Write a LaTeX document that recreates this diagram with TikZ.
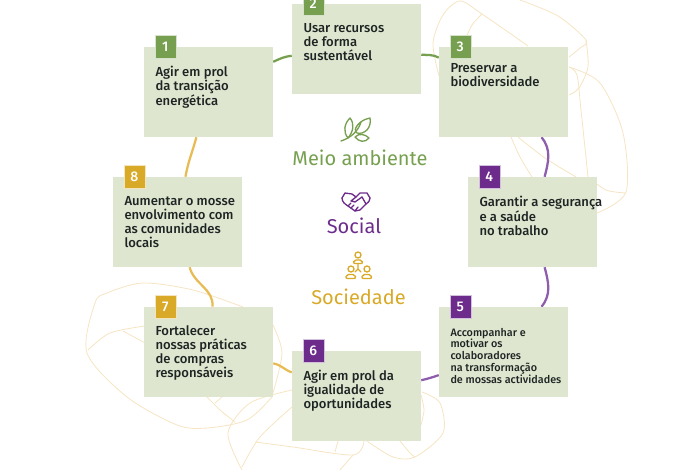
\documentclass[tikz,border=0pt]{standalone}
\usepackage{fontspec}
\setmainfont{Fira Sans}
\newfontfamily\medfont{Fira Sans Medium}
\usetikzlibrary{calc,positioning}
\definecolor{boxgreen}{HTML}{DEE6CF}
\definecolor{leafgreen}{HTML}{76A04F}
\definecolor{plum}{HTML}{6D2C8B}
\definecolor{ochre}{HTML}{D9A928}
\definecolor{linkplum}{HTML}{8E5DAE}
\definecolor{linkochre}{HTML}{E8BC55}
\definecolor{scribble}{HTML}{F6E4C3}
\definecolor{ink}{HTML}{1E2423}
\tikzset{
  goalbox/.style={fill=boxgreen,draw=none,minimum width=129*0.75pt,minimum height=90*0.75pt,inner sep=0pt},
  badge/.style={draw=white!70!#1,fill=#1,line width=.3pt,text=white,minimum width=21*0.75pt,minimum height=23*0.75pt,inner sep=0pt,font=\medfont\fontsize{10.5pt}{12pt}\selectfont},
  goaltext/.style={anchor=north west,inner sep=0pt,align=left,text=ink,font=\medfont\fontsize{9.8pt}{10.5pt}\selectfont},
  smalltext/.style={goaltext,font=\medfont\fontsize{8.1pt}{8.8pt}\selectfont},
  pillar/.style={inner sep=0pt,font=\fontsize{15pt}{18pt}\selectfont},
  link/.style={line width=1.7pt},
  doodle/.style={draw=scribble,line width=.6pt},
  icon/.style={line width=1pt,line cap=round,line join=round}
}
\begin{document}
\begin{tikzpicture}[x=0.75pt,y=-0.75pt]
  \useasboundingbox (0,0) rectangle (700,470);
  % loose lines behind the boxes
  \draw[doodle] plot[smooth] coordinates {(439,76) (433,43) (443,15) (460,1) (482,14) (528,46)};
  \draw[doodle] plot[smooth] coordinates {(482,14) (472,25) (466,38)};
  \draw[doodle] plot[smooth] coordinates {(520,0) (558,16) (586,40) (580,48) (569,57)};
  \draw[doodle] plot[smooth] coordinates {(586,40) (588,67) (579,88) (569,95)};
  \draw[doodle] plot[smooth] coordinates {(569,67) (600,83) (623,133) (626,192) (597,213)};
  \draw[doodle] plot[smooth] coordinates {(569,67) (577,75) (581,110) (588,177)};
  \draw[doodle] plot[smooth] coordinates {(511,137) (520,157) (532,177)};
  \draw[doodle] plot[smooth] coordinates {(518,137) (545,158) (576,177)};
  \draw[doodle] plot[smooth] coordinates {(588,177) (606,190) (626,193)};
  \draw[doodle] plot[smooth] coordinates {(243,307) (193,290) (143,283) (107,293) (95,303) (87,353) (127,397) (177,425) (207,428) (247,420) (272,397)};
  \draw[doodle] plot[smooth] coordinates {(145,326) (110,333) (88,350)};
  \draw[doodle] (123,331) -- (145,343);
  \draw[doodle] plot[smooth] coordinates {(207,397) (220,410) (235,422)};
  \draw[doodle] (215,403) -- (222,397);
  \draw[doodle] plot[smooth] coordinates {(273,325) (282,353) (273,393)};
  \draw[doodle] plot[smooth] coordinates {(292,390) (250,403) (228,433) (242,470)};
  \draw[doodle] plot[smooth] coordinates {(292,407) (260,437) (242,467)};
  \draw[doodle] plot[smooth] coordinates {(255,442) (293,447) (353,455) (364,441)};
  \draw[doodle] (353,455) -- (340,470);
  \draw[doodle] (335,452) -- (338,441);
  \draw[doodle] plot[smooth] coordinates {(367,441) (393,457) (415,457) (443,433) (440,403) (422,392)};
  \draw[doodle] plot[smooth] coordinates {(400,441) (410,453) (415,457)};
  \draw[doodle] (407,441) -- (421,425);
  \draw[doodle] plot[smooth] coordinates {(421,395) (424,410) (421,425)};
  % boxes
  \node[goalbox] (transicao) at (208.5,92) {};
  \node[goalbox] (recursos) at (356.5,49) {};
  \node[goalbox] (biodiv) at (503.5,92) {};
  \node[goalbox] (seguranca) at (532.5,222) {};
  \node[goalbox] (colab) at (503.5,352) {};
  \node[goalbox] (igualdade) at (356.5,396) {};
  \node[goalbox] (compras) at (208.5,352) {};
  \node[goalbox] (comunidades) at (177.5,222) {};
  % ring
  \draw[link,leafgreen] (transicao) to[out=25,in=186] (recursos);
  \draw[link,leafgreen] (recursos) to[out=-5,in=152] (biodiv);
  \draw[link,linkplum] (biodiv) to[out=-50,in=75] (seguranca);
  \draw[link,linkplum] (seguranca) to[out=-75,in=50] (colab);
  \draw[link,linkplum] (colab) to[bend left=3] (igualdade);
  \draw[link,linkochre] (igualdade) to[out=160,in=-10] (compras);
  \draw[link,linkochre] (compras) to[out=85,in=-75] (comunidades);
  \draw[link,linkochre] (comunidades) to[out=80,in=-105] (transicao);
  % boxes again, over the ring
  \foreach \boxname in {transicao,recursos,biodiv,seguranca,colab,igualdade,compras,comunidades}
    \fill[boxgreen] (\boxname.north west) rectangle (\boxname.south east);
  % badges
  \node[badge=leafgreen] (n1) at ([shift={(21.5,0)}]transicao.north west) {1};
  \node[badge=leafgreen] (n2) at ([shift={(21.5,0)}]recursos.north west) {2};
  \node[badge=leafgreen] (n3) at ([shift={(21.5,0)}]biodiv.north west) {3};
  \node[badge=plum] (n4) at ([shift={(21.5,0)}]seguranca.north west) {4};
  \node[badge=plum] (n5) at ([shift={(21.5,0)}]colab.north west) {5};
  \node[badge=plum] (n6) at ([shift={(21.5,0)}]igualdade.north west) {6};
  \node[badge=ochre] (n7) at ([shift={(21.5,0)}]compras.north west) {7};
  \node[badge=ochre] (n8) at ([shift={(21.5,0)}]comunidades.north west) {8};
  % texts
  \node[goaltext] (t1) at ([shift={(11.5,19)}]transicao.north west) {Agir em prol\\da transição\\energética};
  \node[goaltext] (t2) at ([shift={(11.5,19)}]recursos.north west) {Usar recursos\\de forma\\sustentável};
  \node[goaltext] (t3) at ([shift={(11.5,16)}]biodiv.north west) {Preservar a\\biodiversidade};
  \node[goaltext] (t4) at ([shift={(11.5,19)}]seguranca.north west) {Garantir a segurança\\e a saúde\\no trabalho};
  \node[smalltext] (t5) at ([shift={(11.5,21)}]colab.north west) {Accompanhar e\\motivar os\\colaboradores\\na transformação\\de mossas actividades};
  \node[goaltext] (t6) at ([shift={(11.5,19)}]igualdade.north west) {Agir em prol da\\igualidade de\\oportunidades};
  \node[goaltext] (t7) at ([shift={(11.5,19)}]compras.north west) {Fortalecer\\nossas práticas\\de compras\\responsáveis};
  \node[goaltext] (t8) at ([shift={(11.5,19)}]comunidades.north west) {Aumentar o mosse\\envolvimento com\\as comunidades\\locais};
  % the three pillars
  \node[pillar,text=leafgreen] (meio) at (360,158) {Meio ambiente};
  \node[pillar,text=plum] (social) at (354,226) {Social};
  \node[pillar,text=ochre] (sociedade) at (358.5,297) {Sociedade};
  % leaf
  \begin{scope}[icon,draw=leafgreen]
    \draw (341,141) .. controls (350,138) and (358,132) .. (361,122);
    \draw (357,133) .. controls (352,130) and (359,120) .. (370,118) .. controls (372,128) and (364,135) .. (357,133);
    \draw (348,138) .. controls (343,132) and (344,124) .. (350,118) .. controls (355,124) and (353,132) .. (348,138);
    \draw (355,137) .. controls (359,133) and (365,134) .. (369,138) .. controls (365,143) and (359,142) .. (355,137);
  \end{scope}
  % handshake
  \begin{scope}[icon,draw=plum]
    \draw (342,198) -- (345,193) -- (352,194) -- (356,197) -- (351,201) -- (355,202) -- (362,197);
    \draw (370,198) -- (367,193) -- (360,193) -- (356,197);
    \draw (342,198) .. controls (342,202) and (345,204) .. (348,206) -- (355,211) -- (360,210) -- (366,204) .. controls (369,202) and (370,200) .. (370,198);
    \draw (362,197) -- (366,204) (348,206) -- (351,203) (351,208) -- (354,205) (355,211) -- (358,207);
  \end{scope}
  % people
  \begin{scope}[icon,draw=ochre]
    \draw (358,255) circle (3);
    \draw (351,269) circle (3);
    \draw (367,269) circle (3);
    \draw[rounded corners=1.5pt] (353,263.5) -- (354,260) -- (362,260) -- (363,263.5) -- cycle;
    \draw[rounded corners=1.5pt] (345.5,278.5) -- (346.5,274.5) -- (355,274.5) -- (356,278.5) -- cycle;
    \draw[rounded corners=1.5pt] (361.5,278.5) -- (362.5,274.5) -- (371,274.5) -- (372,278.5) -- cycle;
    \draw (358,264) -- (358,269) -- (355,272) (358,269) -- (361,272);
  \end{scope}
\end{tikzpicture}
\end{document}
